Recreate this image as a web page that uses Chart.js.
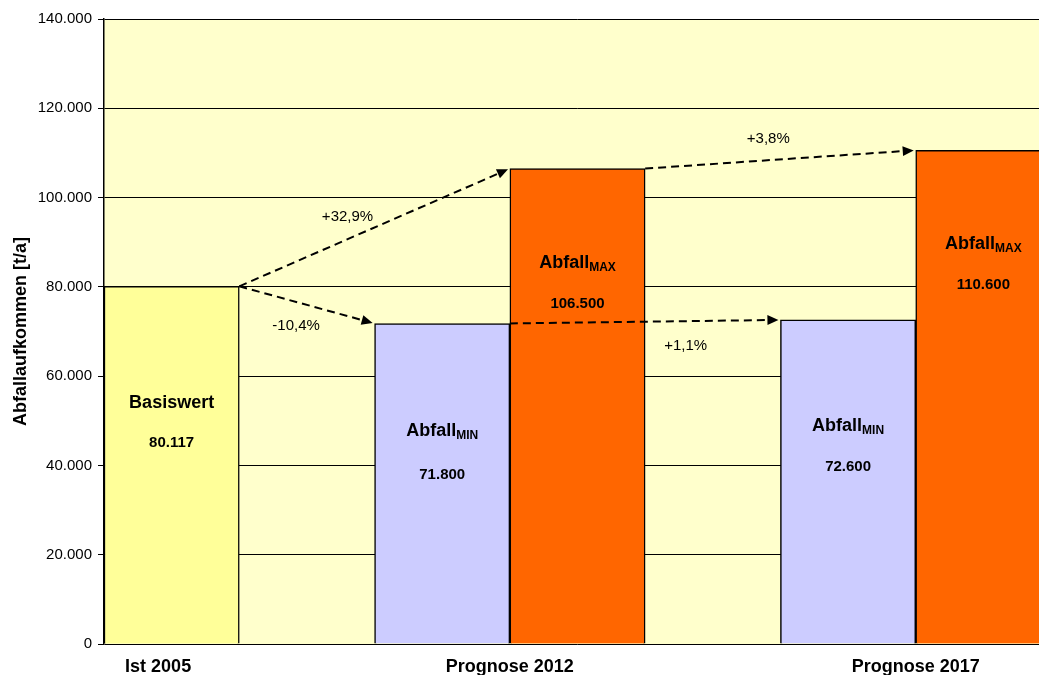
<!DOCTYPE html>
<html><head><meta charset="utf-8">
<script src="https://cdn.jsdelivr.net/npm/chart.js@4.4.1/dist/chart.umd.min.js"></script>
<style>html,body{margin:0;padding:0;overflow:hidden;background:#fff}
#wrap{width:1051px;height:675px;position:relative}</style>
</head><body><div id="wrap"><canvas id="c"></canvas></div>
<script>
const slots = ['Ist 2005', '', 'Min 2012', 'Max 2012', '', 'Min 2017', 'Max 2017'];
const values = [80117, null, 71800, 106500, null, 72600, 110600];
const barColors = ['#FFFF99', '#FFFF99', '#CCCCFF', '#FF6600', '#FFFF99', '#CCCCFF', '#FF6600'];
const barTitles = ['Basiswert', '', 'Abfall', 'Abfall', '', 'Abfall', 'Abfall'];
const barSubs = ['', '', 'MIN', 'MAX', '', 'MIN', 'MAX'];
const xLabels = ['Ist 2005', 'Prognose 2012', 'Prognose 2017'];
const changeLabels = ['+32,9%', '-10,4%', '+3,8%', '+1,1%'];
const yTickValues = [0, 20000, 40000, 60000, 80000, 100000, 120000, 140000];

const FONT = "'Liberation Sans', Arial, sans-serif";
function de(n) { return String(n).replace(/\B(?=(\d{3})+(?!\d))/g, '.'); }

const bgPlugin = {
  id: 'bg',
  beforeDraw(chart) {
    const {ctx, chartArea: a} = chart;
    ctx.save(); ctx.fillStyle = '#FFFFCC';
    ctx.fillRect(a.left, a.top, a.right - a.left, a.bottom - a.top);
    ctx.restore();
  }
};

const overlayPlugin = {
  id: 'overlay',
  afterDatasetsDraw(chart, args, o) {
    const ctx = chart.ctx;
    const meta = chart.getDatasetMeta(0);
    const bars = meta.data;
    // arrows
    ctx.save();
    ctx.strokeStyle = '#000'; ctx.fillStyle = '#000'; ctx.lineWidth = 2;
    o.arrows.forEach(([fi, fs, ti, ts]) => {
      const fb = bars[fi], tb = bars[ti];
      const x1 = fb.x + (fs === 'r' ? 1 : -1) * fb.width / 2, y1 = fb.y;
      const tx = tb.x + (ts === 'r' ? 1 : -1) * tb.width / 2, ty = tb.y;
      const dx = tx - x1, dy = ty - y1, L = Math.hypot(dx, dy);
      const ux = dx / L, uy = dy / L;
      const ex = tx - ux * 2, ey = ty - uy * 2;
      const hl = 11, hw = 5;
      ctx.setLineDash([8, 5]);
      ctx.beginPath(); ctx.moveTo(x1, y1); ctx.lineTo(ex - ux * hl, ey - uy * hl); ctx.stroke();
      ctx.setLineDash([]);
      ctx.beginPath();
      ctx.moveTo(ex, ey);
      ctx.lineTo(ex - ux * hl - uy * hw, ey - uy * hl + ux * hw);
      ctx.lineTo(ex - ux * hl + uy * hw, ey - uy * hl - ux * hw);
      ctx.closePath(); ctx.fill();
    });
    ctx.restore();
    // bar labels
    ctx.save(); ctx.fillStyle = '#000'; ctx.textAlign = 'left';
    bars.forEach((bar, i) => {
      if (values[i] == null) return;
      const top = bar.y, cx = bar.x;
      ctx.font = 'bold 18px ' + FONT;
      const w1 = ctx.measureText(barTitles[i]).width;
      ctx.font = 'bold 12px ' + FONT;
      const w2 = barSubs[i] ? ctx.measureText(barSubs[i]).width : 0;
      const sx = cx - (w1 + w2) / 2;
      const base = top + o.titleOff[i] + 6.5;
      ctx.textBaseline = 'alphabetic';
      ctx.font = 'bold 18px ' + FONT;
      ctx.fillText(barTitles[i], sx, base);
      if (barSubs[i]) { ctx.font = 'bold 12px ' + FONT; ctx.fillText(barSubs[i], sx + w1, base + 3); }
      ctx.font = 'bold 15px ' + FONT;
      ctx.textAlign = 'center';
      ctx.fillText(de(values[i]), cx, top + o.valueOff[i] + 5.5);
      ctx.textAlign = 'left';
    });
    // change labels (positions in slot units on the category scale)
    const xs = chart.scales.x, ys = chart.scales.y;
    const p0 = xs.getPixelForValue(0), p1 = xs.getPixelForValue(1);
    ctx.font = '15px ' + FONT; ctx.textAlign = 'center'; ctx.textBaseline = 'middle';
    changeLabels.forEach((t, i) => {
      const p = o.changePos[i];
      ctx.fillText(t, p0 + p[0] * (p1 - p0), ys.getPixelForValue(p[1]));
    });
    ctx.restore();
  }
};

new Chart(document.getElementById('c'), {
  type: 'bar',
  data: {
    labels: slots,
    datasets: [{
      data: values,
      backgroundColor: barColors,
      borderColor: '#000',
      borderWidth: 1.5,
      barPercentage: 1,
      categoryPercentage: 1,
      xAxisID: 'x', yAxisID: 'y'
    }]
  },
  options: {
    responsive: true, maintainAspectRatio: false, animation: false,
    layout: { padding: { top: 19, left: 0, right: 0, bottom: 0 } },
    plugins: {
      legend: { display: false }, tooltip: { enabled: false },
      overlay: {
        arrows: [[0, 'r', 3, 'l'], [0, 'r', 2, 'l'], [3, 'r', 6, 'l'], [2, 'r', 5, 'l']],
        titleOff: [115, 0, 106, 93, 0, 105, 92],
        valueOff: [155, 0, 150, 134, 0, 146, 133],
        changePos: [[1.3, 95600], [0.92, 71300], [4.41, 113100], [3.8, 66800]]
      }
    },
    scales: {
      x: { type: 'category', display: false },
      xl: {
        type: 'linear', position: 'bottom', min: -0.5, max: 6.5, offset: false,
        afterBuildTicks: s => { s.ticks = [-0.1, 2.5, 5.5].map(v => ({ value: v })); },
        afterFit: s => { s.height = 31; },
        grid: { display: false, offset: false }, border: { display: false },
        ticks: {
          autoSkip: false, maxRotation: 0, minRotation: 0, padding: 4,
          color: '#000', font: { family: FONT, size: 18, weight: 'bold' },
          callback: (v, i) => xLabels[i]
        }
      },
      y: {
        min: 0, max: 140000,
        afterBuildTicks: s => { s.ticks = yTickValues.map(v => ({ value: v })); },
        afterFit: s => { s.width = 104; },
        grid: { color: '#000', lineWidth: 1, tickLength: 6, drawTicks: true },
        border: { display: true, color: '#000', width: 1.5 },
        ticks: {
          padding: 6, color: '#000', font: { family: FONT, size: 15 },
          callback: v => de(v)
        },
        title: {
          display: true, text: 'Abfallaufkommen [t/a]', color: '#000',
          font: { family: FONT, size: 18, weight: 'bold' }, padding: { top: 10, bottom: 0 }
        }
      }
    }
  },
  plugins: [bgPlugin, overlayPlugin]
});
</script></body></html>
